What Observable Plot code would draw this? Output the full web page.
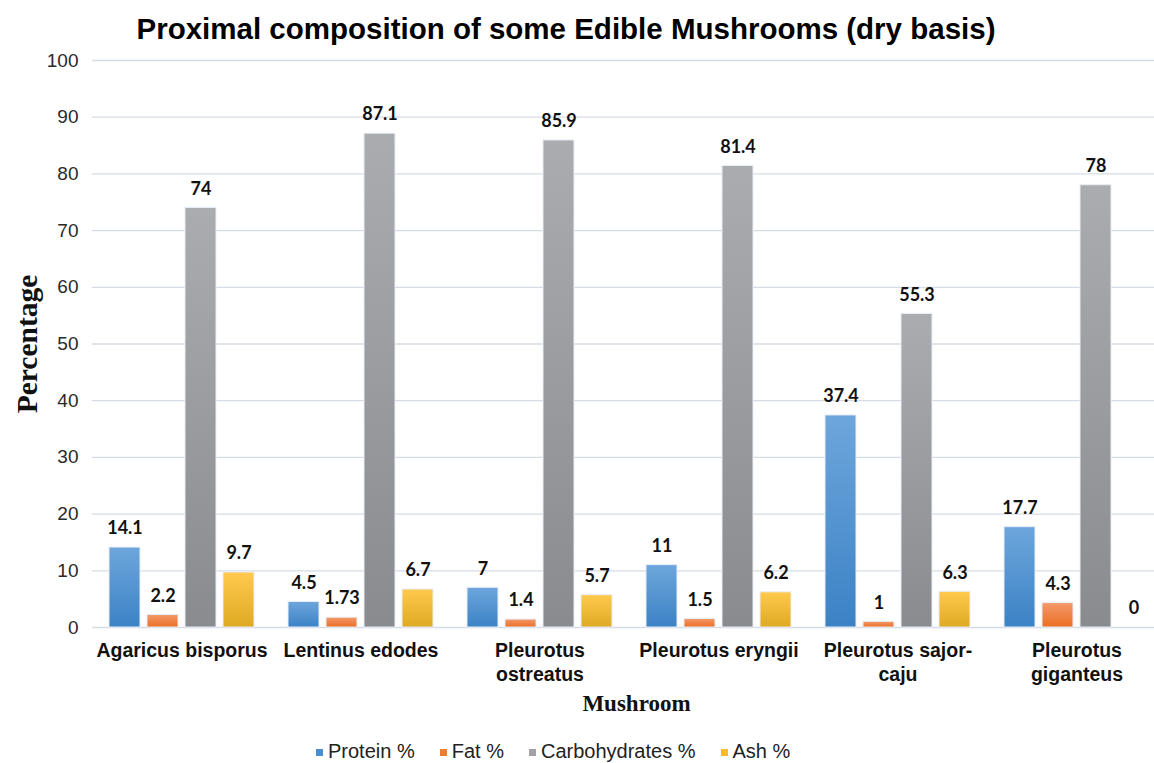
<!DOCTYPE html>
<html>
<head>
<meta charset="utf-8">
<script src="https://cdn.jsdelivr.net/npm/d3@7"></script>
<script src="https://cdn.jsdelivr.net/npm/@observablehq/plot@0.6"></script>
<style>
  body { margin: 0; background: #fff; width: 1154px; height: 763px; overflow: hidden; position: relative; }
  #title { position: absolute; top: 12px; left: 0; width: 1132px; height: 36px; line-height: 36px; text-align: center; font: bold 29.5px "Liberation Sans", Arial, sans-serif; color: #000; z-index: 2; }
  #chart svg { display: block; overflow: hidden; }
  #legend { position: absolute; top: 740px; left: 316px; height: 24px; line-height: 24px; font: 20px "Liberation Sans", Arial, sans-serif; color: #222; white-space: nowrap; }
  #legend span.item { margin-right: 25px; }
  #legend span.sw { display: inline-block; width: 7px; height: 7px; margin-right: 5px; vertical-align: 2px; }
</style>
</head>
<body>
<div id="title">Proximal composition of some Edible Mushrooms (dry basis)</div>
<div id="chart"></div>
<div id="legend"></div>
<script>
const mushrooms = ["Agaricus bisporus", "Lentinus edodes", "Pleurotus ostreatus", "Pleurotus eryngii", "Pleurotus sajor-caju", "Pleurotus giganteus"];
const tickLabels = ["Agaricus bisporus", "Lentinus edodes", "Pleurotus\nostreatus", "Pleurotus eryngii", "Pleurotus sajor-\ncaju", "Pleurotus\ngiganteus"];
const series = ["Protein %", "Fat %", "Carbohydrates %", "Ash %"];
const protein = [14.1, 4.5, 7, 11, 37.4, 17.7];
const fat = [2.2, 1.73, 1.4, 1.5, 1, 4.3];
const carbs = [74, 87.1, 85.9, 81.4, 55.3, 78];
const ash = [9.7, 6.7, 5.7, 6.2, 6.3, 0];
const yTicks = [0, 10, 20, 30, 40, 50, 60, 70, 80, 90, 100];

const gradIds = ["gProtein", "gFat", "gCarb", "gAsh"];
const gradStops = [["#6ea6dc", "#3b82c5"], ["#f4996b", "#eb6f24"], ["#aaacaf", "#898b8e"], ["#ffca4e", "#deaa22"]];
const legendColors = ["#4a8ed0", "#ed7d31", "#a0a2a5", "#f5bd2c"];

const valuesBySeries = [protein, fat, carbs, ash];
const table = [];
mushrooms.forEach((m, i) => {
  series.forEach((s, j) => table.push({mushroom: m, series: s, value: valuesBySeries[j][i]}));
});
const tickMap = new Map(mushrooms.map((m, i) => [m, tickLabels[i]]));

const chart = Plot.plot({
  width: 1154,
  height: 720,
  marginTop: 60,
  marginBottom: 93,
  marginLeft: 92,
  marginRight: 0,
  style: {fontFamily: "Liberation Sans, Arial, sans-serif", fontSize: "19px"},
  fx: {domain: mushrooms, range: [92, 1166], padding: 0, label: null},
  x: {domain: series, paddingInner: 0.18, paddingOuter: 0.385, axis: null},
  y: {domain: [0, 100], axis: null},
  color: {domain: series, range: gradIds.map(id => `url(#${id})`)},
  marks: [
    Plot.gridY(yTicks, {stroke: "#d6dce6", strokeOpacity: 1, strokeWidth: 1.3}),
    Plot.axisY(yTicks, {tickSize: 0, tickPadding: 14, fontSize: 19, fill: "#2a2a2a", label: null}),
    Plot.barY(table, {fx: "mushroom", x: "series", y: "value", fill: "series", stroke: "#e8eef6", strokeWidth: 1}),
    Plot.text(table, {fx: "mushroom", x: "series", y: "value", text: d => String(d.value), dy: -19, fontSize: 18, fontWeight: "bold", fontFamily: "Lato, 'Open Sans', sans-serif", fill: "#111"}),
    Plot.axisFx({anchor: "bottom", tickSize: 0, tickPadding: 13, tickFormat: d => tickMap.get(d), fontSize: 19.5, fontWeight: "bold", lineHeight: 1.2, fill: "#111", label: null}),
    Plot.text(["Mushroom"], {facet: "super", frameAnchor: "bottom", lineAnchor: "middle", dy: 76, dx: 7, fontSize: 23, fontWeight: "bold", fontFamily: "Liberation Serif, Times New Roman, serif", fill: "#111"}),
    Plot.text(["Percentage"], {facet: "super", frameAnchor: "left", textAnchor: "middle", dx: -65, rotate: -90, fontSize: 29.5, fontWeight: "bold", fontFamily: "Liberation Serif, Times New Roman, serif", fill: "#111"})
  ]
});

const defs = d3.select(chart).insert("defs", ":first-child");
gradIds.forEach((id, i) => {
  const g = defs.append("linearGradient").attr("id", id).attr("x1", 0).attr("y1", 0).attr("x2", 0).attr("y2", 1);
  g.append("stop").attr("offset", "0%").attr("stop-color", gradStops[i][0]);
  g.append("stop").attr("offset", "100%").attr("stop-color", gradStops[i][1]);
});

document.getElementById("chart").appendChild(chart);

const legend = d3.select("#legend");
series.forEach((s, i) => {
  const item = legend.append("span").attr("class", "item");
  item.append("span").attr("class", "sw").style("background", legendColors[i]);
  item.append("span").text(s);
});
</script>
</body>
</html>
